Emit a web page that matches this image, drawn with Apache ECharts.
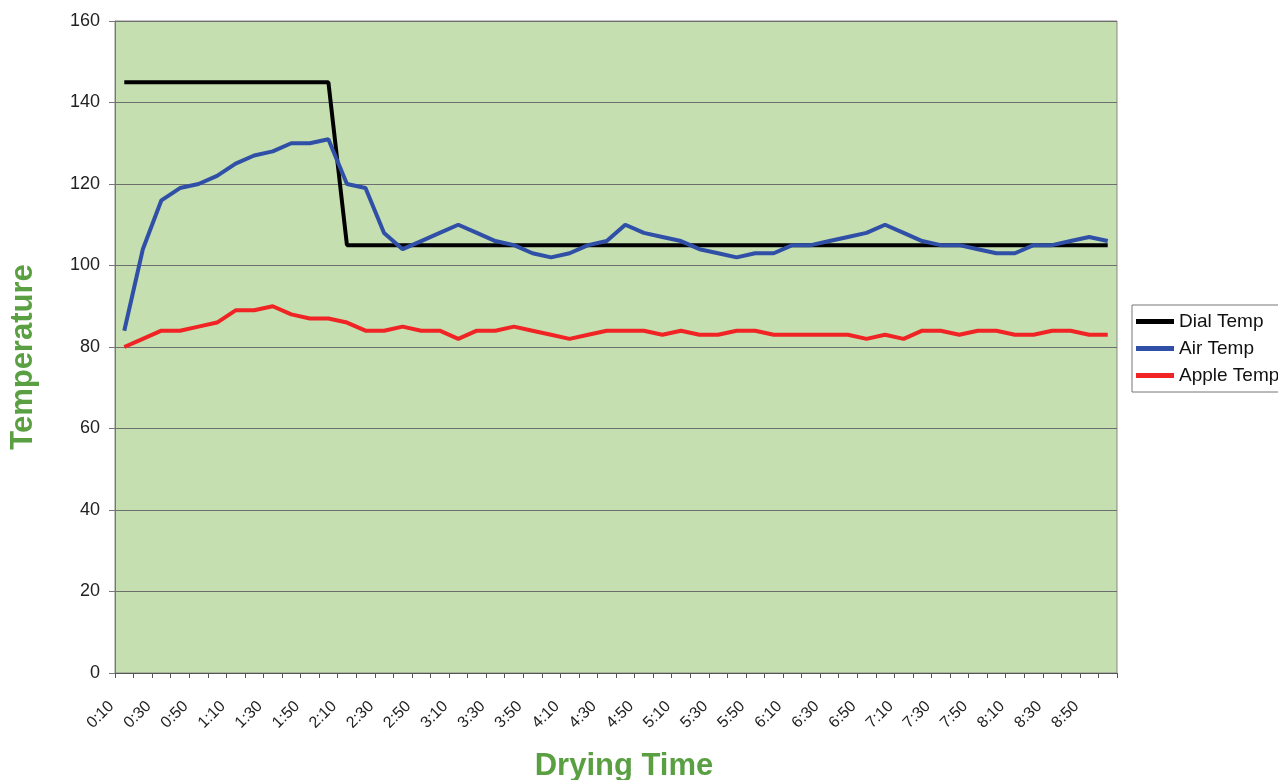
<!DOCTYPE html>
<html>
<head>
<meta charset="utf-8">
<script src="https://cdn.jsdelivr.net/npm/echarts@6/dist/echarts.min.js"></script>
<style>html,body{margin:0;padding:0;background:#fff;}#c{width:1278px;height:780px;}</style>
</head>
<body>
<div id="c"></div>
<script>
const categories = ["0:10","0:20","0:30","0:40","0:50","1:00","1:10","1:20","1:30","1:40","1:50","2:00",
  "2:10","2:20","2:30","2:40","2:50","3:00","3:10","3:20","3:30","3:40","3:50","4:00",
  "4:10","4:20","4:30","4:40","4:50","5:00","5:10","5:20","5:30","5:40","5:50","6:00",
  "6:10","6:20","6:30","6:40","6:50","7:00","7:10","7:20","7:30","7:40","7:50","8:00",
  "8:10","8:20","8:30","8:40","8:50","9:00"];
const dialTemp = [145,145,145,145,145,145,145,145,145,145,145,145,
  105,105,105,105,105,105,105,105,105,105,105,105,105,105,105,105,105,105,105,105,105,105,105,105,
  105,105,105,105,105,105,105,105,105,105,105,105,105,105,105,105,105,105];
const airTemp = [84,104,116,119,120,122,125,127,128,130,130,131,
  120,119,108,104,106,108,110,108,106,105,103,102,
  103,105,106,110,108,107,106,104,103,102,103,103,
  105,105,106,107,108,110,108,106,105,105,104,103,
  103,105,105,106,107,106];
const appleTemp = [80,82,84,84,85,86,89,89,90,88,87,87,
  86,84,84,85,84,84,82,84,84,85,84,83,
  82,83,84,84,84,83,84,83,83,84,84,83,
  83,83,83,83,82,83,82,84,84,83,84,84,
  83,83,84,84,83,83];
const yTicks = {min: 0, max: 160, interval: 20};

const chart = echarts.init(document.getElementById('c'));
const lbl = {fontFamily: 'Liberation Sans, Arial, sans-serif', color: '#222'};
chart.setOption({
  animation: false,
  backgroundColor: '#fff',
  grid: {left: 115, right: 161, top: 21, bottom: 107, show: true, containLabel: false, outerBoundsMode: 'none',
    backgroundColor: '#c5dfb0', borderColor: '#888', borderWidth: 1},
  xAxis: {
    type: 'category', data: categories, boundaryGap: true,
    name: 'Drying Time', nameLocation: 'middle', nameGap: 78,
    nameTextStyle: {fontFamily: 'Liberation Sans, Arial, sans-serif', fontSize: 31, fontWeight: 'bold', color: '#5aa043', padding: [0, 0, 0, 16]},
    axisLine: {lineStyle: {color: '#555', width: 1}},
    axisTick: {show: true, interval: 0, length: 5, lineStyle: {color: '#555'}},
    axisLabel: Object.assign({interval: 1, rotate: 45, fontSize: 16, margin: 18, padding: [0, 18, 0, 0]}, lbl),
    splitLine: {show: false}
  },
  yAxis: {
    type: 'value', min: yTicks.min, max: yTicks.max, interval: yTicks.interval,
    name: 'Temperature', nameLocation: 'middle', nameGap: 76, nameRotate: 90,
    nameTextStyle: {fontFamily: 'Liberation Sans, Arial, sans-serif', fontSize: 31, fontWeight: 'bold', color: '#5aa043', padding: [0, 20, 0, 0]},
    axisLine: {show: true, lineStyle: {color: '#777', width: 1}},
    axisTick: {show: true, length: 6, lineStyle: {color: '#777'}},
    axisLabel: Object.assign({fontSize: 18, margin: 15}, lbl),
    splitLine: {show: true, lineStyle: {color: '#6e6e6e', width: 1}}
  },
  legend: {
    orient: 'vertical', left: 1132, top: 305,
    padding: [7, 40, 7, 4], itemGap: 8,
    borderColor: '#777', borderWidth: 1, backgroundColor: '#fff',
    itemWidth: 38, itemHeight: 5, icon: 'rect',
    textStyle: {fontFamily: 'Liberation Sans, Arial, sans-serif', fontSize: 19, color: '#111', padding: [0,0,0,0]},
    data: ['Dial Temp', 'Air Temp', 'Apple Temp']
  },
  series: [
    {name: 'Dial Temp', type: 'line', data: dialTemp, showSymbol: false, symbol: 'none',
      lineStyle: {color: '#000', width: 4}, itemStyle: {color: '#000'}},
    {name: 'Air Temp', type: 'line', data: airTemp, showSymbol: false, symbol: 'none',
      lineStyle: {color: '#3050a8', width: 4}, itemStyle: {color: '#3050a8'}},
    {name: 'Apple Temp', type: 'line', data: appleTemp, showSymbol: false, symbol: 'none',
      lineStyle: {color: '#f02424', width: 4}, itemStyle: {color: '#f02424'}}
  ]
});
</script>
</body>
</html>
